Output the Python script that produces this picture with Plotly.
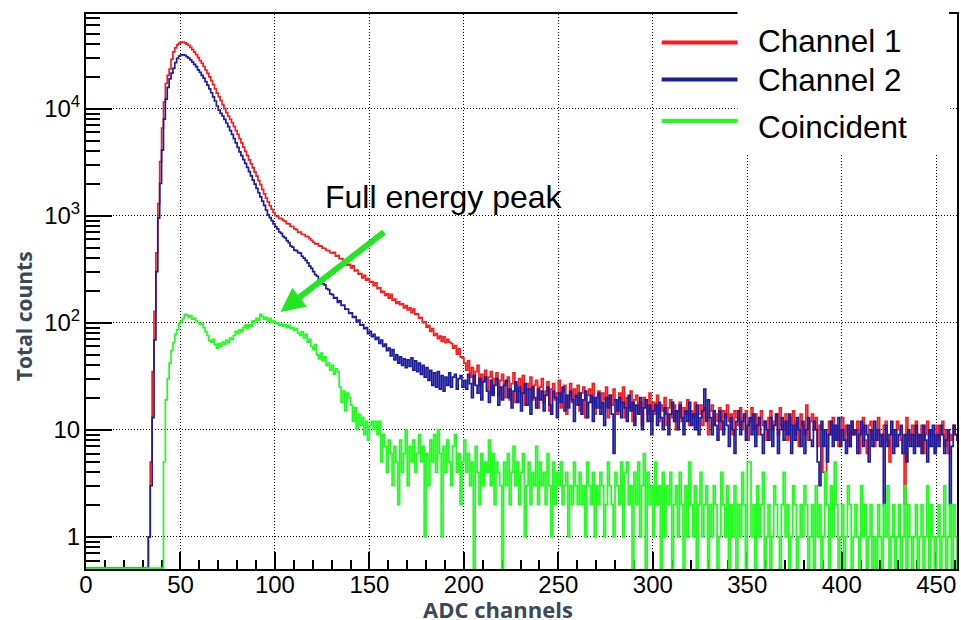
import plotly.graph_objects as go

# ---------------- data (counts per ADC channel, channel 0 .. 461) ----------------
channel1 = [
    0, 0, 0, 0, 0, 0, 0, 0, 0, 0, 0, 0, 0, 0, 0, 0, 0, 0, 0, 0,
    0, 0, 0, 0, 0, 0, 0, 0, 0, 0, 0, 0, 0, 1, 5, 35, 128, 450, 1300, 3200,
    6600, 11500, 17200, 20500, 23500, 29000, 34000, 37000, 39500, 41000, 41700, 41900, 41200, 40200, 39000, 37500, 35600, 33800, 32000, 30000,
    28200, 26600, 24800, 23000, 21400, 19800, 18300, 16800, 15300, 14000, 12900, 11900, 10900, 10000, 9200, 8500, 7950, 7400, 6800, 6250,
    5750, 5250, 4800, 4380, 4000, 3650, 3320, 3050, 2800, 2560, 2340, 2130, 1950, 1760, 1600, 1460, 1350, 1240, 1150, 1070,
    1000, 985, 945, 940, 905, 885, 845, 840, 795, 790, 755, 740, 700, 705, 670, 668, 640, 638, 610, 590,
    565, 545, 548, 522, 520, 498, 494, 475, 472, 452, 448, 455, 420, 425, 398, 396, 372, 378, 345, 352,
    326, 340, 305, 310, 285, 288, 262, 278, 250, 258, 240, 242, 222, 236, 208, 212, 192, 196, 180, 186,
    170, 184, 162, 166, 152, 157, 148, 150, 138, 145, 132, 138, 124, 134, 120, 121, 110, 112, 100, 102,
    91, 94, 83, 88, 76, 79, 71, 75, 67, 74, 65, 70, 66, 64, 58, 61, 51, 57, 48, 47,
    42, 36, 44, 31, 38, 27, 35, 40, 26, 33, 29, 36, 24, 31, 35, 22, 30, 34, 21, 29,
    33, 20, 28, 31, 19, 27, 34, 18, 26, 30, 22, 32, 17, 27, 24, 31, 19, 26, 29, 16,
    25, 30, 18, 23, 28, 15, 24, 27, 19, 22, 29, 16, 23, 26, 14, 21, 27, 18, 24, 20,
    26, 15, 22, 25, 13, 21, 24, 18, 27, 14, 20, 23, 16, 22, 19, 25, 13, 21, 17, 24,
    19, 14, 22, 18, 25, 13, 20, 16, 23, 12, 19, 21, 15, 18, 11, 20, 17, 14, 22, 12,
    18, 14, 21, 12, 17, 15, 20, 11, 16, 19, 13, 17, 10, 15, 18, 12, 16, 14, 19, 11,
    15, 13, 18, 10, 14, 17, 11, 16, 13, 9, 15, 17, 11, 14, 12, 16, 10, 15, 13, 17,
    12, 14, 9, 15, 13, 11, 16, 10, 13, 15, 8, 12, 16, 10, 14, 9, 13, 15, 11, 12,
    8, 13, 15, 10, 12, 14, 9, 16, 11, 10, 14, 8, 13, 11, 15, 9, 12, 7, 14, 11,
    9, 17, 8, 12, 14, 10, 13, 7, 11, 10, 4, 4, 7, 12, 9, 13, 8, 11, 7, 10,
    13, 8, 11, 9, 7, 12, 9, 10, 12, 6, 10, 13, 8, 6, 11, 12, 8, 7, 10, 13,
    9, 7, 11, 12, 8, 5, 10, 9, 7, 12, 10, 8, 6, 2, 13, 8, 9, 11, 7, 12,
    9, 7, 11, 6, 9, 12, 7, 10, 9, 6, 11, 8, 9, 12, 7, 10, 6, 9, 8, 11, 9, 8,
]

channel2 = [
    0, 0, 0, 0, 0, 0, 0, 0, 0, 0, 0, 0, 0, 0, 0, 0, 0, 0, 0, 0,
    0, 0, 0, 0, 0, 0, 0, 0, 0, 0, 0, 0, 0, 1, 3, 13, 69, 300, 950, 2000,
    4100, 8000, 12300, 15800, 19000, 21500, 23800, 27000, 29500, 31000, 31800, 31900, 31500, 30600, 29700, 28600, 27300, 26000, 24700, 23100,
    21900, 20500, 19300, 17900, 16600, 15300, 14100, 12900, 11800, 10600, 9700, 9050, 8550, 7950, 7350, 6800, 6250, 5750, 5250, 4800,
    4350, 3950, 3650, 3350, 3080, 2830, 2580, 2360, 2150, 1970, 1800, 1640, 1500, 1370, 1250, 1130, 1020, 960, 900, 840,
    790, 755, 705, 685, 640, 620, 585, 560, 520, 510, 478, 472, 452, 448, 418, 402, 382, 362, 338, 322,
    300, 282, 272, 255, 248, 232, 226, 208, 204, 186, 183, 170, 172, 155, 160, 145, 146, 134, 134, 122,
    124, 112, 114, 102, 106, 95, 96, 88, 90, 79, 83, 74, 78, 70, 73, 64, 69, 60, 63, 55,
    58, 49, 56, 45, 50, 42, 48, 40, 46, 38, 45, 39, 47, 36, 44, 35, 42, 33, 40, 31,
    38, 29, 36, 26, 34, 25, 35, 24, 32, 23, 31, 26, 34, 25, 31, 33, 24, 30, 32, 25,
    29, 24, 33, 27, 20, 32, 26, 22, 30, 19, 28, 31, 23, 18, 29, 21, 26, 30, 17, 25,
    19, 26, 29, 20, 24, 16, 23, 28, 18, 25, 15, 22, 27, 17, 24, 14, 25, 20, 16, 24,
    19, 23, 15, 21, 25, 17, 14, 23, 20, 13, 22, 18, 25, 15, 21, 16, 23, 19, 12, 21,
    17, 22, 14, 19, 23, 13, 18, 21, 12, 20, 16, 22, 14, 18, 11, 20, 16, 21, 14, 6,
    19, 15, 20, 13, 18, 16, 12, 21, 15, 18, 11, 17, 14, 20, 10, 16, 19, 12, 17, 9,
    15, 17, 11, 18, 13, 10, 16, 14, 9, 14, 18, 12, 15, 10, 17, 13, 9, 15, 12, 18,
    11, 14, 10, 17, 9, 13, 15, 24, 12, 19, 13, 9, 15, 11, 8, 15, 12, 9, 14, 11,
    7, 13, 10, 6, 12, 15, 9, 12, 14, 8, 11, 13, 9, 14, 7, 11, 13, 9, 6, 12,
    10, 8, 13, 7, 11, 14, 6, 10, 13, 8, 12, 9, 14, 6, 11, 8, 13, 10, 7, 12,
    6, 10, 13, 8, 7, 12, 10, 5, 3, 12, 7, 10, 5, 9, 12, 7, 11, 8, 13, 7,
    10, 8, 6, 11, 7, 12, 9, 10, 6, 9, 12, 7, 11, 9, 5, 10, 7, 12, 8, 10,
    7, 9, 2, 11, 7, 9, 12, 6, 10, 7, 9, 11, 6, 9, 5, 10, 7, 9, 6, 11,
    7, 9, 6, 11, 8, 5, 10, 7, 11, 6, 9, 7, 11, 9, 6, 8, 10, 2, 7, 11, 9, 8,
]

coincident = [
    0, 0, 0, 0, 0, 0, 0, 0, 0, 0, 0, 0, 0, 0, 0, 0, 0, 0, 0, 0,
    0, 0, 0, 0, 0, 0, 0, 0, 0, 0, 0, 0, 0, 0, 0, 0, 0, 0, 0, 0,
    0, 5, 19, 30, 42, 55, 65, 78, 86, 98, 103, 110, 120, 118, 112, 116, 108, 110, 104, 100,
    96, 99, 90, 82, 76, 68, 66, 70, 62, 58, 64, 60, 66, 63, 69, 65, 72, 70, 76, 83,
    79, 86, 82, 90, 95, 88, 96, 92, 104, 100, 110, 106, 120, 114, 108, 112, 103, 110, 100, 105,
    98, 100, 95, 97, 93, 96, 90, 94, 88, 90, 85, 88, 80, 76, 82, 72, 78, 66, 70, 60,
    56, 62, 50, 46, 52, 44, 48, 40, 42, 36, 40, 33, 37, 35, 25, 18, 23, 15, 22, 20,
    17, 12, 16, 10, 14, 11, 13, 9, 12, 8, 11, 12, 10, 12, 9, 12, 5, 9, 7, 4,
    8, 6, 3, 7, 5, 2, 8, 4, 6, 10, 3, 7, 5, 8, 4, 6, 9, 5, 7, 1,
    6, 3, 8, 5, 9, 4, 10, 6, 1, 7, 4, 8, 5, 3, 7, 9, 4, 6, 2, 5,
    8, 4, 6, 3, 5, 0, 7, 4, 2, 6, 3, 5, 4, 8, 3, 6, 2, 5, 4, 3,
    0, 5, 3, 6, 2, 4, 7, 3, 5, 2, 4, 6, 1, 3, 5, 2, 4, 3, 7, 2,
    5, 3, 4, 2, 6, 3, 1, 5, 2, 4, 3, 5, 2, 3, 4, 1, 3, 2, 5, 3,
    2, 4, 2, 3, 1, 5, 3, 2, 4, 1, 3, 2, 4, 3, 1, 2, 5, 3, 2, 1,
    4, 3, 2, 5, 1, 4, 5, 2, 3, 0, 4, 2, 5, 1, 3, 6, 0, 4, 2, 3,
    1, 5, 2, 3, 0, 4, 1, 3, 2, 4, 0, 2, 3, 1, 4, 2, 0, 3, 1, 5,
    2, 1, 3, 0, 2, 4, 1, 2, 3, 0, 2, 1, 3, 2, 0, 1, 4, 2, 1, 3,
    0, 2, 1, 3, 0, 2, 1, 4, 2, 0, 5, 5, 1, 2, 0, 3, 1, 2, 4, 0,
    1, 2, 0, 1, 3, 2, 1, 0, 2, 4, 1, 2, 0, 1, 3, 2, 0, 1, 2, 1,
    3, 2, 0, 1, 2, 0, 3, 1, 2, 0, 1, 4, 2, 0, 3, 1, 5, 2, 0, 1,
    2, 0, 1, 3, 2, 0, 1, 2, 1, 0, 3, 1, 2, 0, 1, 2, 0, 1, 0, 2,
    1, 0, 2, 1, 3, 0, 1, 2, 0, 1, 2, 0, 1, 3, 0, 2, 1, 0, 1, 2,
    0, 1, 2, 0, 1, 3, 0, 2, 1, 0, 1, 2, 0, 1, 3, 0, 1, 2, 0, 2, 1, 0,
]

series_names = ["Channel 1", "Channel 2", "Coincident"]
series_colors = ["#ff1a1a", "#1c1c9c", "#1eff1e"]
x_tick_values = [0, 50, 100, 150, 200, 250, 300, 350, 400, 450]
y_tick_values = [1, 10, 100, 1000, 10000]
y_tick_labels = ["1", "10", "10<sup>2</sup>", "10<sup>3</sup>", "10<sup>4</sup>"]
x_title = "ADC channels"
y_title = "Total counts"
peak_label = "Full energy peak"

# ---------------- layout geometry (pixels) ----------------
W, H = 961, 620
PL, PR, PT, PB = 86, 959, 14, 569
X_MAX = 461
Y_LOG_MIN, Y_LOG_MAX = -0.301, 4.885
FLOOR = 0.51  # empty bins are drawn on the bottom frame, as ROOT does


def px2x(px):
    return (px - PL) / (PR - PL)


def py2y(py):
    return (PB - py) / (PB - PT)


fig = go.Figure()
for name, color, vals in zip(series_names, series_colors, [channel1, channel2, coincident]):
    xs = list(range(len(vals))) + [len(vals)]
    ys = [v if v > 0 else FLOOR for v in vals]
    ys = ys + [ys[-1]]
    fig.add_trace(go.Scatter(
        x=xs, y=ys, name=name, mode="lines", line_shape="hv",
        line=dict(color=color, width=1.7), showlegend=False,
        hovertemplate=name + ": %{y}<extra></extra>",
    ))

tick_font = dict(family="Liberation Sans, Arial, sans-serif", size=24, color="black")
minor_y = [v * m for v in [0.1, 1, 10, 100, 1000, 10000] for m in range(2, 10)]
minor_y = [v for v in minor_y if 0.5 < v < 77000]

fig.update_xaxes(
    range=[0, X_MAX], tickvals=x_tick_values, ticks="inside", ticklen=17, tickwidth=1.5,
    tickcolor="black", tickfont=tick_font, showgrid=True, gridcolor="black", griddash="1px,2px",
    gridwidth=1, showline=True, linecolor="black", linewidth=2, mirror=True, zeroline=False,
    minor=dict(dtick=10, tick0=0, ticks="inside", ticklen=9, tickwidth=1.5, tickcolor="black", showgrid=False),
    ticklabelstandoff=-7, layer="below traces",
)
fig.update_yaxes(
    type="log", range=[Y_LOG_MIN, Y_LOG_MAX], tickvals=y_tick_values, ticktext=y_tick_labels,
    ticks="inside", ticklen=26, tickwidth=1.5, tickcolor="black", tickfont=tick_font,
    showgrid=True, gridcolor="black", griddash="1px,2px", gridwidth=1,
    showline=True, linecolor="black", linewidth=2, mirror=True, zeroline=False,
    minor=dict(tickvals=minor_y, ticks="inside", ticklen=14, tickwidth=1.5, tickcolor="black", showgrid=False),
    ticklabelstandoff=-1, layer="below traces",
)

shapes = []
# white legend panel pasted over the top-right corner
shapes.append(dict(type="rect", xref="paper", yref="paper", layer="above",
                   x0=px2x(739), x1=px2x(951), y0=py2y(155), y1=py2y(8),
                   fillcolor="white", line=dict(width=0)))
legend_rows = [(42.5, 41), (79.5, 80), (121, 127)]
annotations = []
for (ly, ty), name, color in zip(legend_rows, series_names, series_colors):
    shapes.append(dict(type="line", xref="paper", yref="paper", layer="above",
                       x0=px2x(663), x1=px2x(739), y0=py2y(ly), y1=py2y(ly),
                       line=dict(color=color, width=4)))
    annotations.append(dict(text=name, xref="paper", yref="paper", x=px2x(758), y=py2y(ty),
                            xanchor="left", yanchor="middle", showarrow=False,
                            font=dict(family="Liberation Sans, Arial, sans-serif", size=31.5, color="black")))

annotations.append(dict(text=peak_label, xref="paper", yref="paper", x=px2x(445), y=py2y(197),
                        xanchor="center", yanchor="middle", showarrow=False,
                        font=dict(family="Liberation Sans, Arial, sans-serif", size=32, color="black")))
# arrow pointing at the full energy peak
annotations.append(dict(text="", xref="paper", yref="paper", x=px2x(281), y=py2y(312),
                        ax=105, ay=-81, showarrow=True, arrowhead=2, arrowsize=0.8,
                        arrowwidth=6, arrowcolor="#22e622"))
annotations.append(dict(text="<b>" + x_title + "</b>", xref="paper", yref="paper",
                        x=px2x(499), y=py2y(609), xanchor="center", yanchor="middle",
                        showarrow=False,
                        font=dict(family="Open Sans, sans-serif", size=22, color="#3c4757")))
annotations.append(dict(text="<b>" + y_title + "</b>", xref="paper", yref="paper",
                        x=px2x(24), y=py2y(316), xanchor="center", yanchor="middle",
                        showarrow=False, textangle=-90,
                        font=dict(family="Open Sans, sans-serif", size=21, color="#3c4757")))

fig.update_layout(
    width=W, height=H, margin=dict(l=PL, r=W - PR, t=PT, b=H - PB),
    paper_bgcolor="white", plot_bgcolor="white",
    shapes=shapes, annotations=annotations, showlegend=False,
)

fig.write_html("out.html")
